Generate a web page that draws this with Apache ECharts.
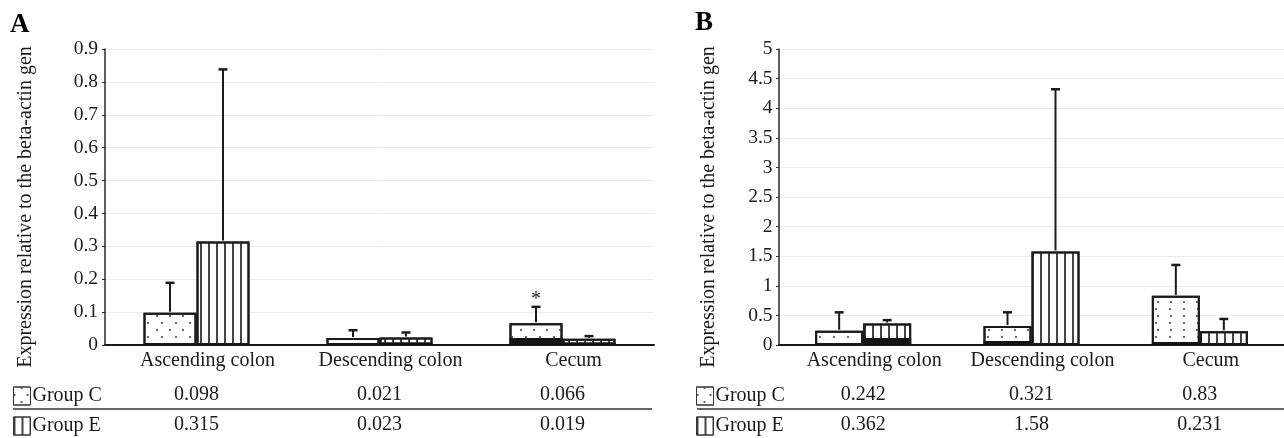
<!DOCTYPE html>
<html>
<head>
<meta charset="utf-8">
<script src="https://cdn.jsdelivr.net/npm/echarts@6/dist/echarts.min.js"></script>
<style>
  html, body { margin: 0; padding: 0; background: #fff; }
  #chart { width: 1284px; height: 438px; }
</style>
</head>
<body>
<div id="chart"></div>
<script>
// ---------- data ----------
const categories = ['Ascending colon', 'Descending colon', 'Cecum'];
const seriesNames = ['Group C', 'Group E'];

// Panel A
const groupC_A = [0.098, 0.021, 0.066];
const groupE_A = [0.315, 0.023, 0.019];
const errTopC_A = [0.189, 0.045, 0.116];
const errTopE_A = [0.838, 0.038, 0.027];
const darkBaseC_A = [0, 0, 0.021];
const darkBaseE_A = [0, 0.008, 0.008];
const marksC_A = ['', '', '*'];
const yTicksA = { min: 0, max: 0.9, interval: 0.1 };

// Panel B
const groupC_B = [0.242, 0.321, 0.83];
const groupE_B = [0.362, 1.58, 0.231];
const errTopC_B = [0.552, 0.552, 1.352];
const errTopE_B = [0.42, 4.32, 0.44];
const darkBaseC_B = [0, 0.067, 0.05];
const darkBaseE_B = [0.12, 0, 0];
const yTicksB = { min: 0, max: 5, interval: 0.5 };

const yTitle = 'Expression relative to the beta-actin gen';
const panelLetters = ['A', 'B'];

// ---------- styles ----------
const FONT = "'Liberation Serif', 'Times New Roman', serif";
const INK = '#1a1a1a';
const bwA = 53, bwB = 48;

const decalDots = {
  symbol: 'rect', symbolSize: 1, color: '#6a6a6a',
  dashArrayX: [[1.6, 10.9], [0, 6.25, 1.6, 4.65]],
  dashArrayY: [1.6, 4.9]
};
const decalLines = {
  symbol: 'rect', symbolSize: 1, color: '#444',
  dashArrayX: [1.1, 5.2],
  dashArrayY: [10, 0]
};

function barSeries(name, gi, data, bw, decal) {
  return {
    name, type: 'bar', xAxisIndex: gi * 3, yAxisIndex: gi,
    data, barWidth: bw, barGap: '0%', z: 2,
    itemStyle: { color: '#fff', borderColor: INK, borderWidth: 2, decal }
  };
}

function darkSeries(gi, vals, side, bw) {
  return {
    type: 'custom', xAxisIndex: gi * 3, yAxisIndex: gi, z: 3, silent: true,
    data: vals.map((v, i) => [i, v]),
    renderItem: (params, api) => {
      const v = api.value(1);
      if (!v) return null;
      const p0 = api.coord([api.value(0), 0]);
      const p1 = api.coord([api.value(0), v]);
      const x = side < 0 ? p0[0] - bw : p0[0];
      return { type: 'rect', shape: { x: x, y: p1[1], width: bw, height: p0[1] - p1[1] },
               style: { fill: '#141414' } };
    }
  };
}

function errSeries(gi, vals, tops, side, bw, marks) {
  return {
    type: 'custom', xAxisIndex: gi * 3, yAxisIndex: gi, z: 4, silent: true,
    data: vals.map((v, i) => [i, v, tops[i]]),
    renderItem: (params, api) => {
      const i = api.value(0);
      const b = api.coord([i, api.value(1)]);
      const t = api.coord([i, api.value(2)]);
      const x = b[0] + side * bw / 2;
      const ch = [
        { type: 'line', shape: { x1: x, y1: b[1] - 1, x2: x, y2: t[1] }, style: { stroke: INK, lineWidth: 2 } },
        { type: 'line', shape: { x1: x - 4.5, y1: t[1], x2: x + 4.5, y2: t[1] }, style: { stroke: INK, lineWidth: 2.5 } }
      ];
      if (marks && marks[i]) {
        ch.push({ type: 'text', x: x, y: t[1] + 3,
          style: { text: marks[i], align: 'center', verticalAlign: 'bottom', font: '20px ' + FONT, fill: INK } });
      }
      return { type: 'group', children: ch };
    }
  };
}

function xAxes(gi, rowC, rowE) {
  const common = { type: 'category', gridIndex: gi, data: categories, position: 'bottom' };
  const lab = { fontSize: 20, fontFamily: FONT, color: INK, interval: 0, hideOverlap: false, verticalAlign: 'middle' };
  return [
    Object.assign({}, common, {
      axisLine: { show: true, lineStyle: { color: INK, width: 2 } },
      axisTick: { show: false },
      axisLabel: Object.assign({}, lab, { margin: 16, padding: [0, 0, 0, 22] })
    }),
    Object.assign({}, common, {
      offset: 50, axisLine: { show: false }, axisTick: { show: false }, splitLine: { show: false },
      axisLabel: Object.assign({}, lab, { margin: 0, formatter: (v, i) => String(rowC[i]) })
    }),
    Object.assign({}, common, {
      offset: 80, axisLine: { show: false }, axisTick: { show: false }, splitLine: { show: false },
      axisLabel: Object.assign({}, lab, { margin: 0, formatter: (v, i) => String(rowE[i]) })
    })
  ];
}

function yAxis(gi, ticks, nameGap, labelMargin) {
  return {
    type: 'value', gridIndex: gi, min: ticks.min, max: ticks.max, interval: ticks.interval,
    axisLine: { show: true, lineStyle: { color: '#2a2a2a', width: 1.5 } },
    axisTick: { show: true, length: 3, lineStyle: { color: '#2a2a2a' } },
    axisLabel: { fontSize: 19.5, fontFamily: FONT, color: INK, margin: labelMargin },
    splitLine: { show: true, lineStyle: { color: '#ebebeb', width: 1 } },
    name: yTitle, nameLocation: 'middle', nameRotate: 90, nameGap: nameGap,
    nameTextStyle: { fontSize: 20, fontFamily: FONT, color: INK, padding: [0, 20, 0, 0] }
  };
}

function legendItem(name, left, top) {
  return {
    data: [name], orient: 'horizontal', left: left, top: top,
    itemWidth: 17, itemHeight: 18, padding: 0,
    icon: 'rect', selectedMode: false,
    itemStyle: { borderWidth: 1, borderColor: '#333' },
    textStyle: { fontSize: 20, fontFamily: FONT, color: INK, padding: [0, 0, 0, -3] }
  };
}

const chart = echarts.init(document.getElementById('chart'), null, { renderer: 'canvas' });
chart.setOption({
  animation: false,
  textStyle: { fontFamily: FONT, color: INK },
  title: [
    { text: panelLetters[0], left: 10, top: 12, padding: 0, textStyle: { fontSize: 27, fontWeight: 'bold', fontFamily: FONT, color: '#000' } },
    { text: panelLetters[1], left: 695, top: 10, padding: 0, textStyle: { fontSize: 27, fontWeight: 'bold', fontFamily: FONT, color: '#000' } }
  ],
  legend: [
    legendItem(seriesNames[0], 13, 386), legendItem(seriesNames[1], 13, 416),
    legendItem(seriesNames[0], 696, 386), legendItem(seriesNames[1], 696, 416)
  ],
  grid: [
    { left: 105, top: 49, width: 549, height: 296, containLabel: false },
    { left: 779, top: 49, width: 505, height: 296, containLabel: false }
  ],
  xAxis: [].concat(xAxes(0, groupC_A, groupE_A), xAxes(1, groupC_B, groupE_B)),
  yAxis: [yAxis(0, yTicksA, 69.5, 7), yAxis(1, yTicksB, 60, 6.5)],
  graphic: [
    { type: 'line', shape: { x1: 13, y1: 409, x2: 652, y2: 409 }, style: { stroke: '#333', lineWidth: 1.5 } },
    { type: 'line', shape: { x1: 697, y1: 409, x2: 1284, y2: 409 }, style: { stroke: '#333', lineWidth: 1.5 } }
  ],
  series: [
    barSeries(seriesNames[0], 0, groupC_A, bwA, decalDots),
    barSeries(seriesNames[1], 0, groupE_A, bwA, decalLines),
    darkSeries(0, darkBaseC_A, -1, bwA),
    darkSeries(0, darkBaseE_A, 1, bwA),
    errSeries(0, groupC_A, errTopC_A, -1, bwA, marksC_A),
    errSeries(0, groupE_A, errTopE_A, 1, bwA),
    barSeries(seriesNames[0], 1, groupC_B, bwB, decalDots),
    barSeries(seriesNames[1], 1, groupE_B, bwB, decalLines),
    darkSeries(1, darkBaseC_B, -1, bwB),
    darkSeries(1, darkBaseE_B, 1, bwB),
    errSeries(1, groupC_B, errTopC_B, -1, bwB),
    errSeries(1, groupE_B, errTopE_B, 1, bwB)
  ]
});
</script>
</body>
</html>
